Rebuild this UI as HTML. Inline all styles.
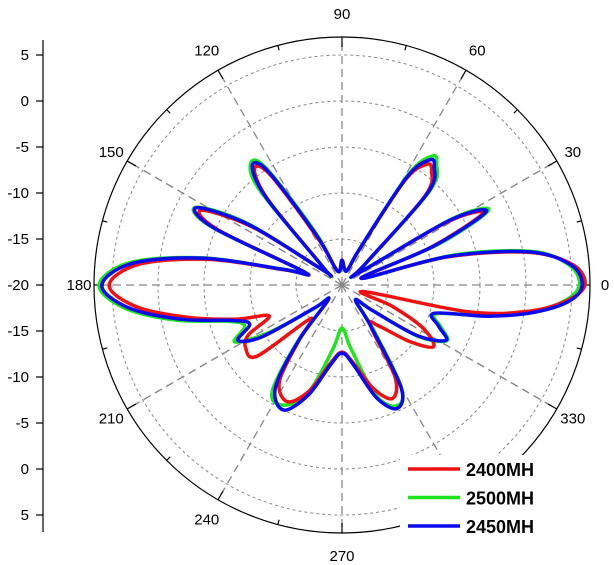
<!DOCTYPE html>
<html><head><meta charset="utf-8"><style>
html,body{margin:0;padding:0;background:#fff;}
svg{display:block;font-family:"Liberation Sans",Arial,sans-serif;}
</style></head><body>
<svg id="chart" width="614" height="565" viewBox="0 0 614 565" xmlns="http://www.w3.org/2000/svg">
<g id="grid"></g>
<g id="axis"></g>
<g id="series"></g>
<g id="legend"></g>
</svg>
<script>
const angles = [0,5,10,15,19,23,27,31,36,42,47,52,55,59,64,72,90,108,117,123,127,131,137,142,147,152,156,161,165,169,174,180,186,192,198,203,208,213,220,227,232,237,245,253,262,270,278,287,294,300,305,312,320,326,332,337,343,348,352,356];
const red2400 = [6.4,5.2,0.5,-8.3,-17.8,-9.5,-2.8,-6.8,-17.8,-16.7,-6.8,-4.2,-4.0,-6.8,-15.7,-18.4,-17.3,-18.4,-14.5,-5.8,-4.2,-7.8,-17.3,-17.3,-8.5,-2.7,-5.2,-15.7,-13.8,-5.5,2.0,5.3,2.5,-3.0,-8.0,-11.4,-8.5,-7.5,-8.0,-15.0,-12.4,-7.5,-6.0,-8.0,-11.5,-12.7,-11.5,-8.2,-6.5,-8.5,-14.6,-14.0,-10.5,-8.0,-10.0,-14.0,-17.6,-6.0,0.5,4.5];
const green2500 = [5.8,4.8,1.0,-7.5,-17.8,-8.5,-2.1,-6.0,-17.8,-16.7,-6.0,-3.3,-2.9,-6.0,-15.7,-18.4,-17.3,-18.4,-13.5,-4.8,-3.5,-6.5,-17.3,-17.3,-7.5,-2.0,-4.5,-15.7,-13.5,-4.5,3.2,6.4,3.8,-1.6,-7.2,-8.5,-6.8,-10.5,-16.0,-17.8,-12.0,-6.0,-5.6,-8.0,-13.0,-15.3,-13.0,-7.5,-5.6,-7.0,-14.0,-17.8,-15.7,-10.0,-7.1,-8.3,-9.3,-4.0,0.8,4.3];
const blue2450 = [6.1,5.0,0.7,-8.0,-17.8,-9.1,-2.4,-6.4,-17.8,-16.7,-6.4,-3.7,-3.4,-6.4,-15.7,-18.4,-17.3,-18.4,-14.0,-5.3,-3.8,-7.5,-17.3,-17.3,-8.0,-2.1,-4.8,-15.7,-13.5,-4.8,2.8,6.1,3.4,-2.1,-7.5,-9.1,-7.2,-9.7,-16.2,-17.8,-12.4,-6.7,-5.0,-7.5,-11.3,-12.6,-11.3,-7.2,-5.3,-7.2,-14.6,-17.8,-15.7,-10.2,-7.2,-8.6,-9.5,-3.7,1.2,4.8];
const radialTicks = [5,0,-5,-10,-15,-20,-15,-10,-5,0,5];
const angleLabels = [0,30,60,90,120,150,180,210,240,270,300,330];
const legendNames = ["2400MH","2500MH","2450MH"];

const NS="http://www.w3.org/2000/svg";
const CX=342, CY=285, RMIN=-20, PXPERDB=9.2, ROUT=248;
function rScale(v){return Math.max(0,(v-RMIN)*PXPERDB);}
function px(a,r){const t=a*Math.PI/180;return [CX+r*Math.cos(t), CY-r*Math.sin(t)];}
function mk(tag,attrs,parent){const e=document.createElementNS(NS,tag);for(const k in attrs)e.setAttribute(k,attrs[k]);parent.appendChild(e);return e;}

const grid=document.getElementById('grid');
for(let v=-15; v<=5; v+=5){
  const c=mk('circle',{cx:CX,cy:CY,r:rScale(v),fill:'none',stroke:'#888','stroke-width':1,'stroke-dasharray':'3,3'},grid);
  
  
}
for(let a=0;a<360;a+=30){
  const [x,y]=px(a,ROUT);
  const l=mk('line',{x1:CX,y1:CY,x2:x,y2:y,stroke:'#888','stroke-width':1.3,'stroke-dasharray':'8,5'},grid);
  
  
}
const oc=mk('circle',{cx:CX,cy:CY,r:ROUT,fill:'none',stroke:'#000','stroke-width':1.2},grid);


for(let a=0;a<360;a+=15){
  const len=(a%30===0)?10:5;
  const [x1,y1]=px(a,ROUT),[x2,y2]=px(a,ROUT-len);
  const t=mk('line',{x1,y1,x2,y2,stroke:'#000','stroke-width':1.2},grid);
  
  
}
angleLabels.forEach(a=>{
  const c=Math.abs(Math.cos(a*Math.PI/180));
  const [x,y]=px(a,ROUT+23-8*Math.pow(c,4));
  const t=mk('text',{x:x,y:y+5,'font-size':15,'text-anchor':'middle',fill:'#000'},grid);
  t.textContent=String(a);
  
  
});

const axis=document.getElementById('axis');
const al=mk('line',{x1:43,y1:40,x2:43,y2:532,stroke:'#000','stroke-width':1.2},axis);


radialTicks.forEach((v,i)=>{
  const y=CY+(i-5)*5*PXPERDB;
  const tk=mk('line',{x1:36,y1:y,x2:43,y2:y,stroke:'#000','stroke-width':1.2},axis);
  
  
  const t=mk('text',{x:29,y:y+5,'font-size':15,'text-anchor':'end',fill:'#000'},axis);
  t.textContent=String(v);
  
  
});

function pathFor(vals){
  const pts=angles.map((a,i)=>px(a,rScale(vals[i])));
  const n=pts.length;let d='M'+pts[0][0].toFixed(1)+','+pts[0][1].toFixed(1);
  for(let i=0;i<n;i++){
    const p0=pts[(i-1+n)%n],p1=pts[i],p2=pts[(i+1)%n],p3=pts[(i+2)%n];
    const k=1/6;
    const c1=[p1[0]+(p2[0]-p0[0])*k,p1[1]+(p2[1]-p0[1])*k];
    const c2=[p2[0]-(p3[0]-p1[0])*k,p2[1]-(p3[1]-p1[1])*k];
    d+=' C'+c1[0].toFixed(1)+','+c1[1].toFixed(1)+' '+c2[0].toFixed(1)+','+c2[1].toFixed(1)+' '+p2[0].toFixed(1)+','+p2[1].toFixed(1);
  }
  return d+'Z';
}
const sg=document.getElementById('series');
const sGreen=mk('path',{d:pathFor(green2500),fill:'none',stroke:'#1ee61e','stroke-width':3.5,'stroke-linejoin':'round'},sg);


const sRed=mk('path',{d:pathFor(red2400),fill:'none',stroke:'#ee1111','stroke-width':3.5,'stroke-linejoin':'round'},sg);


const sBlue=mk('path',{d:pathFor(blue2450),fill:'none',stroke:'#0a0aee','stroke-width':3.5,'stroke-linejoin':'round'},sg);



const lg=document.getElementById('legend');
const bg=mk('rect',{x:400,y:455,width:165,height:85,fill:'#fff'},lg);


const cols=['#ee1111','#1ee61e','#0a0aee'];
legendNames.forEach((nm,i)=>{
  const y=469+i*28.5;
  const l=mk('line',{x1:408,y1:y,x2:460,y2:y,stroke:cols[i],'stroke-width':3.5},lg);
  
  
  const t=mk('text',{x:466,y:y+7,'font-size':18,'font-weight':'bold',fill:'#000'},lg);
  t.textContent=nm;
  
  
});
</script>
</body></html>
